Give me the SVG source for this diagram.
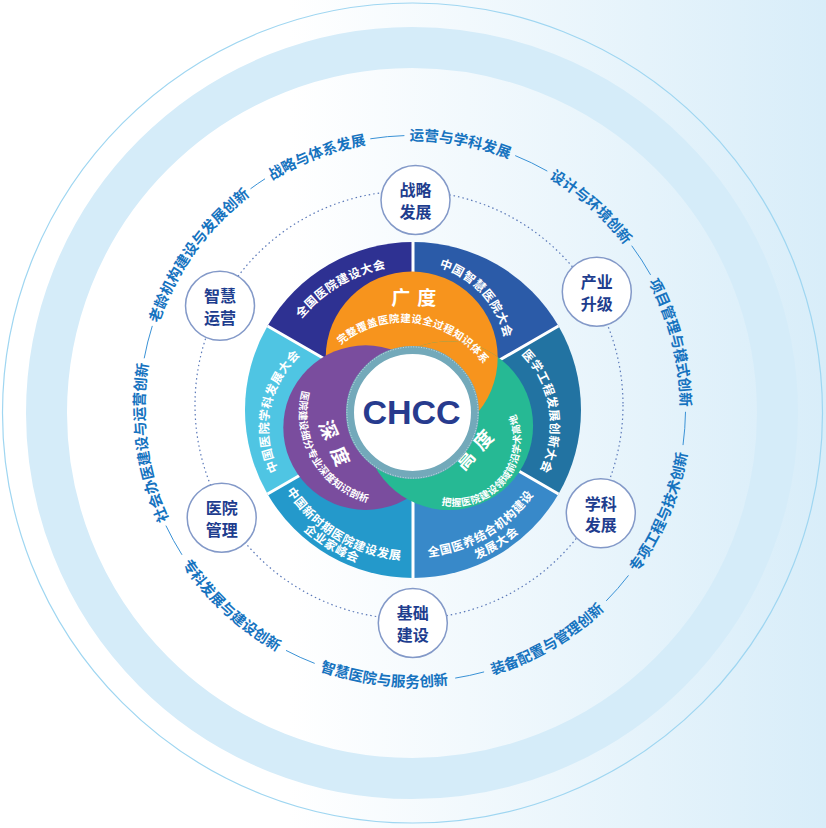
<svg xmlns="http://www.w3.org/2000/svg" width="826" height="828" viewBox="0 0 826 828">
<defs>
<linearGradient id="bg" x1="0" y1="0" x2="1" y2="0">
<stop offset="0" stop-color="#ffffff"/>
<stop offset="0.35" stop-color="#ffffff"/>
<stop offset="1" stop-color="#d8edf9"/>
</linearGradient>
<clipPath id="clipGreen"><circle cx="448.7" cy="425.6" r="84.4"/></clipPath>
<path id="p1" d="M205.0,239.3 A267.8,267.8 0 0 1 455.3,144.2"/>
<path id="p2" d="M321.8,156.5 A267.8,267.8 0 0 1 585.4,204.0"/>
<path id="p3" d="M465.9,146.1 A267.8,267.8 0 0 1 666.5,323.5"/>
<path id="p4" d="M604.2,221.5 A267.8,267.8 0 0 1 670.3,481.0"/>
<path id="p5" d="M581.1,629.8 A278.2,278.2 0 0 0 688.4,373.1"/>
<path id="p6" d="M413.5,686.7 A278.2,278.2 0 0 0 653.9,546.8"/>
<path id="p7" d="M249.0,633.6 A278.2,278.2 0 0 0 525.6,662.6"/>
<path id="p8" d="M147.0,491.7 A278.2,278.2 0 0 0 351.8,680.0"/>
<path id="p9" d="M199.8,571.2 A267.8,267.8 0 0 1 165.3,305.6"/>
<path id="p10" d="M146.0,382.4 A267.8,267.8 0 0 1 301.9,164.6"/>
<path id="s1" d="M287.2,339.4 A144.2,144.2 0 0 1 411.2,265.8"/>
<path id="s2" d="M415.8,263.2 A94.4,94.4 0 0 1 506.0,361.6"/>
<path id="s3" d="M508.5,343.3 A101.7,101.7 0 0 1 531.0,485.4"/>
<path id="s4a" d="M388.7,555.3 A147.3,147.3 0 0 0 551.8,459.2"/>
<path id="s4b" d="M418.7,572.2 A162.3,162.3 0 0 0 556.3,486.2"/>
<path id="s5a" d="M270.9,458.9 A150.3,150.3 0 0 0 436.5,558.5"/>
<path id="s5b" d="M270.4,488.1 A162.6,162.6 0 0 0 409.3,572.6"/>
<path id="s6" d="M285.1,482.1 A97.2,97.2 0 0 1 311.1,347.1"/>
<path id="o1" d="M325.7,360.1 A97.8,97.8 0 0 1 493.6,383.1"/>
<path id="pu1" d="M315.8,361.4 A91.9,91.9 0 0 0 399.6,505.3"/>
<path id="gr1" d="M428.0,500.4 A65.8,65.8 0 0 0 508.4,401.9"/>
</defs>
<style>
text { font-family: "Noto Sans CJK SC", "Noto Sans", sans-serif; font-weight: 700; }
.rt { font-size: 14.5px; fill: #1673bf; }
.st { font-size: 12px; fill: #ffffff; letter-spacing: 0.6px; }
.lt { font-size: 10.5px; fill: #ffffff; letter-spacing: 0.3px; }
.tt { font-size: 19px; fill: #ffffff; }
.nt { font-size: 16px; fill: #1e3d8e; text-anchor: middle; }
.node { fill: #ffffff; stroke: #8399c8; stroke-width: 1.5; }
.ringline { fill: none; stroke: #3a92d6; stroke-width: 1; }
.sep { stroke: #ffffff; stroke-width: 3; }
</style>

<g id="background">
<rect x="0" y="0" width="826" height="828" fill="url(#bg)"/>
<circle cx="412" cy="413" r="365.5" fill="none" stroke="#d5ecf9" stroke-width="41"/>
<circle cx="412.5" cy="413" r="410" fill="none" stroke="#9fd6f1" stroke-width="1.2"/>
</g>

<g id="connectors">
<circle cx="409" cy="405" r="214" fill="none" stroke="#5a78b8" stroke-width="1.2" stroke-dasharray="1.5 3"/>
<path class="ringline" d="M370.3,138.8 A273,273 0 0 1 404.4,135.6"/>
<path class="ringline" d="M515.2,155.6 A273,273 0 0 1 547.3,171.1"/>
<path class="ringline" d="M631.7,245.7 A273,273 0 0 1 650.6,274.9"/>
<path class="ringline" d="M685.5,411.8 A273,273 0 0 1 683.0,445.1"/>
<path class="ringline" d="M628.5,575.4 A273,273 0 0 1 606.2,600.9"/>
<path class="ringline" d="M484.1,671.9 A273,273 0 0 1 455.2,678.1"/>
<path class="ringline" d="M314.7,663.4 A273,273 0 0 1 286.0,650.4"/>
<path class="ringline" d="M182.0,554.8 A273,273 0 0 1 165.9,525.6"/>
<path class="ringline" d="M144.2,358.3 A273,273 0 0 1 152.3,325.9"/>
<path class="ringline" d="M250.5,188.8 A273,273 0 0 1 265.0,178.8"/>
</g>

<g id="segments">
<path d="M413,410 L267.51,326 A168,168 0 0 1 413,242 Z" fill="#2e3192"/>
<path d="M413,410 L413,242 A168,168 0 0 1 558.49,326 Z" fill="#2b5ba8"/>
<path d="M413,410 L558.49,326 A168,168 0 0 1 558.49,494 Z" fill="#2273a2"/>
<path d="M413,410 L558.49,494 A168,168 0 0 1 413,578 Z" fill="#3889c9"/>
<path d="M413,410 L413,578 A168,168 0 0 1 267.51,494 Z" fill="#2499cb"/>
<path d="M413,410 L267.51,494 A168,168 0 0 1 267.51,326 Z" fill="#4fc5e3"/>
<path class="sep" d="M413,410 L413,242 M413,410 L558.49,326 M413,410 L558.49,494 M413,410 L413,578 M413,410 L267.51,494 M413,410 L267.51,326"/>
<text class="st"><textPath href="#s1" startOffset="50%" text-anchor="middle">全国医院建设大会</textPath></text>
<text class="st"><textPath href="#s2" startOffset="50%" text-anchor="middle">中国智慧医院大会</textPath></text>
<text class="st"><textPath href="#s3" startOffset="50%" text-anchor="middle">医学工程发展创新大会</textPath></text>
<text class="st"><textPath href="#s4a" startOffset="50%" text-anchor="middle">全国医养结合机构建设</textPath></text>
<text class="st"><textPath href="#s4b" startOffset="50%" text-anchor="middle">发展大会</textPath></text>
<text class="st"><textPath href="#s5a" startOffset="50%" text-anchor="middle">中国新时期医院建设发展</textPath></text>
<text class="st"><textPath href="#s5b" startOffset="50%" text-anchor="middle">企业家峰会</textPath></text>
<text class="st"><textPath href="#s6" startOffset="50%" text-anchor="middle">中国医院学科发展大会</textPath></text>
</g>

<g id="lobes">
<circle cx="411.7" cy="357.5" r="86" fill="#f7941d"/>
<circle cx="365.6" cy="427.6" r="82.3" fill="#7a4d9e"/>
<circle cx="448.7" cy="425.6" r="84.4" fill="#26b994"/>
<circle cx="411.7" cy="357.5" r="86" fill="#f7941d" clip-path="url(#clipGreen)"/>
<text class="tt" x="400.7 426.7" y="305.2" text-anchor="middle">广度</text>
<text class="tt" transform="translate(334.2,443.3) rotate(66)" x="-14.5 14.5" y="6.8" text-anchor="middle">深度</text>
<text class="tt" transform="translate(474.2,450) rotate(-47.5)" x="-13.5 13.5" y="6.8" text-anchor="middle">高度</text>
<text class="lt"><textPath href="#o1" startOffset="50%" text-anchor="middle">完整覆盖医院建设全过程知识体系</textPath></text>
<text class="lt" style="font-size:10px"><textPath href="#pu1" startOffset="50%" text-anchor="middle">医院建设细分专业深度知识剖析</textPath></text>
<text class="lt" style="font-size:10px"><textPath href="#gr1" startOffset="50%" text-anchor="middle">把握医院建设领域前沿学术高地</textPath></text>
</g>

<g id="center">
<circle cx="412.5" cy="412.5" r="62.5" fill="#ffffff" stroke="#73a9ba" stroke-width="8"/>
<circle cx="412.5" cy="412.5" r="65.6" fill="none" stroke="#ffffff" stroke-width="0.8" stroke-dasharray="1 1.6" opacity="0.8"/>
<text x="411.5" y="423.5" text-anchor="middle" style="font-family:'Liberation Sans',Arial,sans-serif;font-size:34px;font-weight:700;fill:#273b8e">CHCC</text>
</g>

<g id="node-zhanlue"><circle class="node" cx="415.5" cy="200" r="34.5"/><text class="nt" x="415.5" y="196">战略</text><text class="nt" x="415.5" y="217.8">发展</text></g>
<g id="node-chanye"><circle class="node" cx="596.8" cy="291.7" r="34.5"/><text class="nt" x="596.8" y="288">产业</text><text class="nt" x="596.8" y="309.5">升级</text></g>
<g id="node-xueke"><circle class="node" cx="600.8" cy="513.3" r="34.5"/><text class="nt" x="600.8" y="509.6">学科</text><text class="nt" x="600.8" y="531.1">发展</text></g>
<g id="node-jichu"><circle class="node" cx="412.8" cy="623" r="34.5"/><text class="nt" x="412.8" y="619.3">基础</text><text class="nt" x="412.8" y="640.8">建设</text></g>
<g id="node-guanli"><circle class="node" cx="221.7" cy="517.7" r="34.5"/><text class="nt" x="221.7" y="514">医院</text><text class="nt" x="221.7" y="535.5">管理</text></g>
<g id="node-yunying"><circle class="node" cx="220" cy="305.8" r="34.5"/><text class="nt" x="220" y="302.1">智慧</text><text class="nt" x="220" y="323.6">运营</text></g>

<g id="ring-labels">
<text class="rt"><textPath href="#p1" startOffset="50%" text-anchor="middle">战略与体系发展</textPath></text>
<text class="rt"><textPath href="#p2" startOffset="50%" text-anchor="middle">运营与学科发展</textPath></text>
<text class="rt"><textPath href="#p3" startOffset="50%" text-anchor="middle">设计与环境创新</textPath></text>
<text class="rt"><textPath href="#p4" startOffset="50%" text-anchor="middle">项目管理与模式创新</textPath></text>
<text class="rt"><textPath href="#p5" startOffset="50%" text-anchor="middle">专项工程与技术创新</textPath></text>
<text class="rt"><textPath href="#p6" startOffset="50%" text-anchor="middle">装备配置与管理创新</textPath></text>
<text class="rt"><textPath href="#p7" startOffset="50%" text-anchor="middle">智慧医院与服务创新</textPath></text>
<text class="rt"><textPath href="#p8" startOffset="50%" text-anchor="middle">专科发展与建设创新</textPath></text>
<text class="rt"><textPath href="#p9" startOffset="50%" text-anchor="middle">社会办医建设与运营创新</textPath></text>
<text class="rt"><textPath href="#p10" startOffset="50%" text-anchor="middle">老龄机构建设与发展创新</textPath></text>
</g>
</svg>
